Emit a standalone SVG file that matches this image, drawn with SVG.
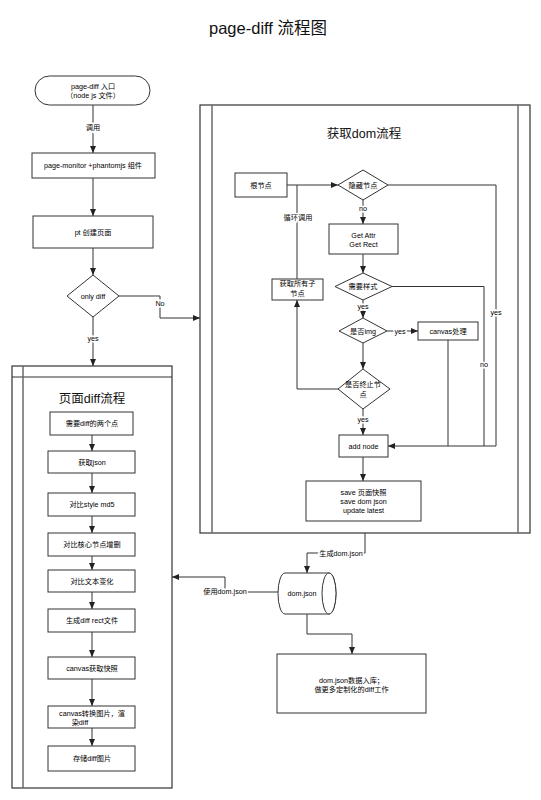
<svg xmlns="http://www.w3.org/2000/svg" width="541" height="800" viewBox="0 0 541 800">
<style>
.bg{fill:#fff}
.box{fill:#fff;stroke:#333;stroke-width:1}
.lane{fill:none;stroke:#333;stroke-width:1.2}
.inner{stroke:#6a6a6a;stroke-width:1.5}
.t{font-family:"Liberation Sans","Noto Sans CJK SC",sans-serif;font-size:7.2px;fill:#000;text-anchor:middle}
.h{font-family:"Liberation Sans","Noto Sans CJK SC",sans-serif;font-size:12.5px;fill:#111;text-anchor:middle}
.lbl{font-family:"Liberation Sans","Noto Sans CJK SC",sans-serif;font-size:7.2px;fill:#000;text-anchor:middle;stroke:#fff;stroke-width:3;paint-order:stroke}
.e{fill:none;stroke:#333;stroke-width:1}
.ea{fill:none;stroke:#333;stroke-width:1;marker-end:url(#arr)}
</style>
<defs>
<marker id="arr" markerUnits="userSpaceOnUse" markerWidth="8" markerHeight="8" refX="7" refY="4" orient="auto">
<path d="M0,1 L7,4 L0,7 Z" fill="#222"/>
</marker>
</defs>
<rect class="bg" x="0" y="0" width="541" height="800"/>
<text x="268" y="34" style="font-family:'Liberation Sans','Noto Sans CJK SC',sans-serif;font-size:16.5px;fill:#111;text-anchor:middle">page-diff 流程图</text>

<g id="lane-diff">
<rect class="lane" x="12" y="366" width="160" height="422"/>
<line class="e" x1="12" y1="377" x2="172" y2="377"/>
<line class="inner" x1="23" y1="366" x2="23" y2="788"/>
<text class="h" x="92" y="403">页面diff流程</text>
</g>
<g id="lane-dom">
<rect class="lane" x="200" y="105" width="330" height="428"/>
<line class="inner" x1="212" y1="105" x2="212" y2="533"/>
<line class="inner" x1="518" y1="105" x2="518" y2="533"/>
<text class="h" x="364" y="138">获取dom流程</text>
</g>

<g id="connectors">
<path class="ea" d="M93,105 L93,153"/>
<path class="ea" d="M93,178 L93,216"/>
<path class="ea" d="M93,248 L93,275"/>
<path class="ea" d="M93,317 L93,366"/>
<path class="ea" d="M119,296 L160,296 L160,318 L200,318"/>
<path class="ea" d="M92,435 L92,451"/>
<path class="ea" d="M92,473 L92,493"/>
<path class="ea" d="M92,516 L92,533"/>
<path class="ea" d="M92,556 L92,570"/>
<path class="ea" d="M92,592 L92,609"/>
<path class="ea" d="M92,632 L92,657"/>
<path class="ea" d="M92,679 L92,706"/>
<path class="ea" d="M92,728 L92,746"/>
<path class="ea" d="M287,185 L338,185"/>
<path class="e" d="M297,279 L297,185"/>
<path class="ea" d="M363,200 L363,224"/>
<path class="ea" d="M363,254 L363,273"/>
<path class="ea" d="M363,300 L363,318"/>
<path class="ea" d="M387,331 L418,331"/>
<path class="ea" d="M363,343 L363,369"/>
<path class="ea" d="M338,389 L297,389 L297,300"/>
<path class="ea" d="M363,409 L363,435"/>
<path class="ea" d="M388,185 L496,185 L496,446 L388,446"/>
<path class="e" d="M392,286.5 L484,286.5 L484,446"/>
<path class="e" d="M448,340 L448,446"/>
<path class="ea" d="M363,457 L363,481"/>
<path class="ea" d="M365,533 L365,553 L307,553 L307,573"/>
<path class="ea" d="M278,592 L225,592 L225,577 L172,577"/>
<path class="ea" d="M307,614 L307,634 L352,634 L352,654"/>
<text class="lbl" x="93" y="129.5">调用</text>
<text class="lbl" x="160" y="305.5">No</text>
<text class="lbl" x="93" y="340.5">yes</text>
<text class="lbl" x="298" y="219.5">循环调用</text>
<text class="lbl" x="363" y="210.5">no</text>
<text class="lbl" x="363" y="308.5">yes</text>
<text class="lbl" x="400" y="334">yes</text>
<text class="lbl" x="363" y="421.5">yes</text>
<text class="lbl" x="496" y="314.5">yes</text>
<text class="lbl" x="484" y="366.5">no</text>
<text class="lbl" x="341" y="555.5">生成dom.json</text>
<text class="lbl" x="225" y="593.5">使用dom.json</text>
</g>

<g id="n-start">
<rect class="box" x="35" y="76" width="115" height="29" rx="14.5"/>
<text class="t" x="93" y="88.5">page-diff 入口</text>
<text class="t" x="93" y="97.5">（node js 文件）</text>
</g>
<g id="n-pm">
<rect class="box" x="32" y="153" width="123" height="25"/>
<text class="t" x="93" y="168">page-monitor +phantomjs 组件</text>
</g>
<g id="n-pt">
<rect class="box" x="33" y="216" width="120" height="32"/>
<text class="t" x="93" y="234.5">pt 创建页面</text>
</g>
<g id="n-onlydiff">
<polygon class="box" points="93,275 119,296 93,317 67,296"/>
<text class="t" x="93" y="298.5">only diff</text>
</g>

<g id="d1"><rect class="box" x="50" y="412" width="83" height="23"/><text class="t" x="92" y="426">需要diff的两个点</text></g>
<g id="d2"><rect class="box" x="48" y="451" width="87" height="22"/><text class="t" x="92" y="464.5">获取json</text></g>
<g id="d3"><rect class="box" x="48" y="493" width="87" height="23"/><text class="t" x="92" y="507">对比style md5</text></g>
<g id="d4"><rect class="box" x="48" y="533" width="87" height="23"/><text class="t" x="92" y="547">对比核心节点增删</text></g>
<g id="d5"><rect class="box" x="48" y="570" width="87" height="22"/><text class="t" x="92" y="583.5">对比文本变化</text></g>
<g id="d6"><rect class="box" x="48" y="609" width="87" height="23"/><text class="t" x="92" y="623">生成diff rect文件</text></g>
<g id="d7"><rect class="box" x="48" y="657" width="87" height="22"/><text class="t" x="92" y="670.5">canvas获取快照</text></g>
<g id="d8"><rect class="box" x="48" y="706" width="87" height="22"/><text class="t" x="92" y="715.5">canvas转换图片，渲</text><text class="t" x="80" y="724.5">染diff</text></g>
<g id="d9"><rect class="box" x="48" y="746" width="87" height="25"/><text class="t" x="92" y="761">存储diff图片</text></g>

<g id="g-root"><rect class="box" x="235" y="173" width="52" height="24"/><text class="t" x="261" y="187.5">根节点</text></g>
<g id="g-hidden"><polygon class="box" points="363,170 388,185 363,200 338,185"/><text class="t" x="363" y="187.5">隐藏节点</text></g>
<g id="g-attr"><rect class="box" x="329" y="224" width="69" height="30"/><text class="t" x="363.5" y="237.5">Get Attr</text><text class="t" x="363.5" y="246.5">Get Rect</text></g>
<g id="g-style"><polygon class="box" points="363,273 392,286.5 363,300 335,286.5"/><text class="t" x="363" y="289">需要样式</text></g>
<g id="g-children"><rect class="box" x="272" y="279" width="51" height="21"/><text class="t" x="297.5" y="285.5">获取所有子</text><text class="t" x="297.5" y="296">节点</text></g>
<g id="g-img"><polygon class="box" points="363,318 387,331 363,343 339,331"/><text class="t" x="363" y="333.5">是否img</text></g>
<g id="g-canvas"><rect class="box" x="418" y="322" width="60" height="18"/><text class="t" x="448" y="333.5">canvas处理</text></g>
<g id="g-end"><polygon class="box" points="363,369 390,389 363,409 338,389"/><text class="t" x="363" y="386.5">是否终止节</text><text class="t" x="363" y="396.5">点</text></g>
<g id="g-add"><rect class="box" x="339" y="435" width="49" height="22"/><text class="t" x="363.5" y="448.5">add node</text></g>
<g id="g-save"><rect class="box" x="306" y="481" width="115" height="40"/><text class="t" x="363.5" y="494.5">save 页面快照</text><text class="t" x="363.5" y="503.5">save dom json</text><text class="t" x="363.5" y="512.5">update latest</text></g>

<g id="n-domjson">
<path class="box" d="M285,573 L329,573 A7,20.5 0 0 1 329,614 L285,614 A7,20.5 0 0 1 285,573 Z"/>
<ellipse class="box" cx="329" cy="593.5" rx="7" ry="20.5"/>
<text class="t" x="302" y="596">dom.json</text>
</g>
<g id="n-db">
<rect class="box" x="277" y="654" width="149" height="59"/>
<text class="t" x="351.5" y="682.5">dom.json数据入库；</text>
<text class="t" x="351.5" y="691.5">做更多定制化的diff工作</text>
</g>
</svg>
